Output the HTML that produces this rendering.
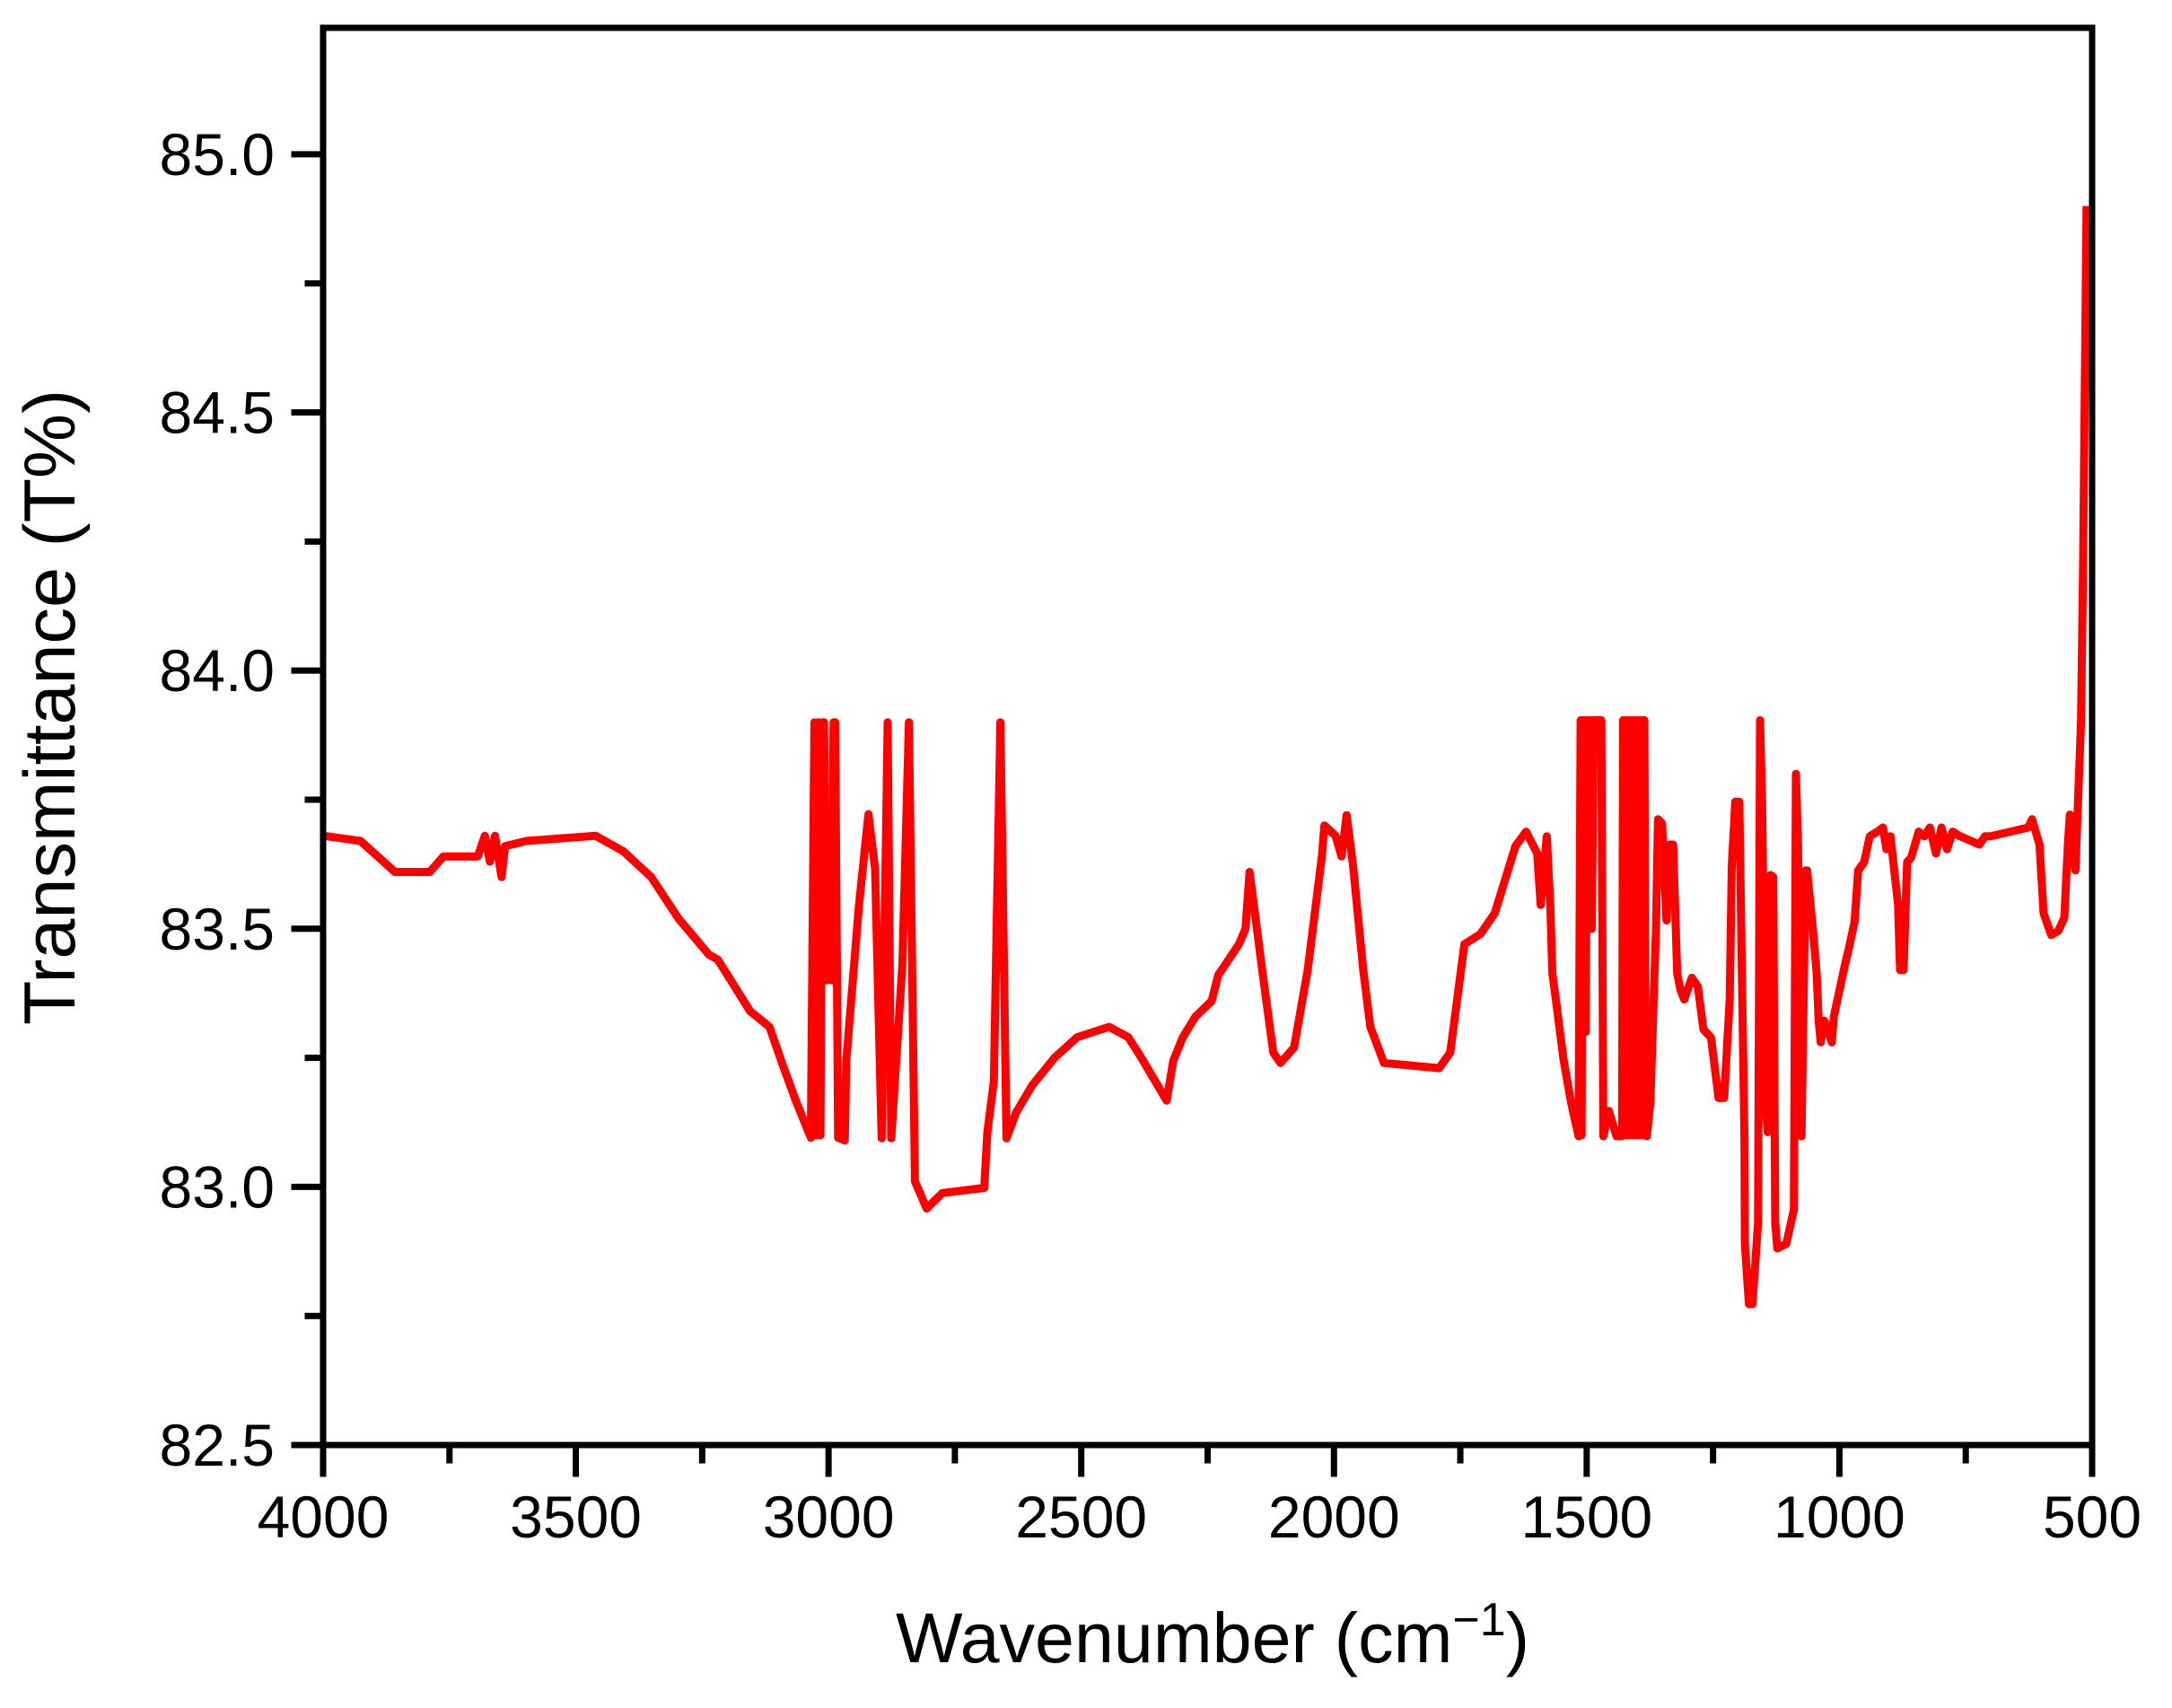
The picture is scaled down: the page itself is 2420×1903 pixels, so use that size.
<!DOCTYPE html>
<html><head><meta charset="utf-8"><style>
html,body{margin:0;padding:0;background:#fff;}
svg{display:block;font-family:"Liberation Sans",Arial,sans-serif;}
</style></head><body>
<svg id="chart" width="2420" height="1903" viewBox="0 0 2420 1903" xmlns="http://www.w3.org/2000/svg">
<rect x="0" y="0" width="2420" height="1903" fill="#fff"/>
<g id="plot"></g>
<g id="axes"></g>
<text x="1351" y="1852" font-size="79" text-anchor="middle">Wavenumber (cm<tspan font-size="52" dy="-30">−1</tspan><tspan dy="30">)</tspan></text>
<text x="0" y="0" font-size="81" text-anchor="middle" transform="translate(83,788) rotate(-90)">Transmittance (T%)</text>
</svg>
<script>
const xTicks = [4000,3500,3000,2500,2000,1500,1000,500];
const xTickLabels = ["4000","3500","3000","2500","2000","1500","1000","500"];
const yTicks = [82.5,83.0,83.5,84.0,84.5,85.0];
const yTickLabels = ["82.5","83.0","83.5","84.0","84.5","85.0"];
const wavenumbers = [4000,3926,3858,3789,3762,3694,3680,3670,3660,3647,3640,3598,3461,3406,3351,3297,3237,3219,3155,3117,3092,3066,3035,3028,3024,3020,3016,3012,3009,3005,3000,2995,2990,2987,2981,2968,2965,2940,2921,2908,2895,2883,2876,2854,2841,2829,2806,2775,2692,2686,2673,2660,2648,2629,2597,2553,2508,2445,2407,2381,2331,2318,2299,2274,2242,2229,2188,2175,2167,2155,2142,2120,2106,2079,2052,2024,2019,1997,1985,1975,1962,1942,1928,1901,1792,1770,1742,1710,1682,1641,1620,1598,1591,1579,1572,1568,1561,1546,1531,1516,1512,1510,1508,1506,1504,1502,1499,1496,1493,1490,1486,1471,1467,1456,1441,1430,1428,1425,1422,1419,1416,1413,1410,1407,1404,1401,1398,1395,1392,1389,1386,1383,1381,1374,1363,1359,1351,1342,1336,1329,1321,1314,1307,1292,1280,1269,1254,1239,1228,1217,1213,1206,1198,1188,1187,1179,1172,1161,1157,1153,1146,1142,1136,1131,1127,1123,1105,1090,1086,1082,1075,1067,1064,1052,1045,1041,1037,1030,1015,1011,1000,989,981,970,963,951,940,925,914,907,899,884,880,873,866,858,843,832,821,809,798,787,776,761,723,712,701,626,619,604,596,581,567,555,548,544,533,522,518,511,505,501];
const transmittance = [83.68,83.67,83.61,83.61,83.64,83.64,83.68,83.63,83.68,83.60,83.66,83.67,83.68,83.65,83.60,83.52,83.45,83.44,83.34,83.31,83.24,83.17,83.095,83.90,83.10,83.90,83.10,83.90,83.90,83.40,83.60,83.40,83.90,83.90,83.095,83.09,83.244,83.543,83.722,83.616,83.094,83.90,83.094,83.43,83.90,83.011,82.958,82.988,82.998,83.104,83.204,83.90,83.094,83.144,83.197,83.25,83.29,83.31,83.29,83.25,83.167,83.244,83.29,83.33,83.36,83.41,83.47,83.50,83.61,83.52,83.42,83.26,83.24,83.27,83.42,83.64,83.70,83.68,83.64,83.72,83.62,83.42,83.31,83.24,83.23,83.26,83.47,83.49,83.53,83.66,83.688,83.646,83.546,83.679,83.546,83.413,83.363,83.247,83.164,83.098,83.904,83.10,83.904,83.30,83.904,83.30,83.904,83.50,83.904,83.50,83.904,83.904,83.098,83.147,83.098,83.098,83.904,83.10,83.904,83.10,83.904,83.10,83.904,83.10,83.904,83.10,83.904,83.10,83.904,83.10,83.904,83.10,83.098,83.164,83.496,83.712,83.704,83.516,83.663,83.663,83.413,83.38,83.363,83.405,83.388,83.305,83.289,83.172,83.172,83.363,83.621,83.746,83.746,83.098,82.89,82.773,82.773,82.931,83.904,83.746,83.164,83.106,83.604,83.60,82.931,82.881,82.89,82.956,83.80,83.663,83.098,83.613,83.613,83.496,83.413,83.322,83.28,83.322,83.28,83.33,83.38,83.43,83.463,83.513,83.613,83.629,83.679,83.688,83.696,83.654,83.679,83.546,83.42,83.42,83.629,83.638,83.688,83.679,83.696,83.646,83.696,83.654,83.688,83.679,83.663,83.679,83.679,83.696,83.712,83.663,83.53,83.488,83.496,83.521,83.663,83.721,83.613,83.90,84.2,84.9];

const L=360,R=2331,T=31,B=1610;
const xMin=500,xMax=4000,yMin=82.5,yMax=85.245;
function sx(w){return L+(xMax-w)/(xMax-xMin)*(R-L);}
function sy(v){return B-(v-yMin)/(yMax-yMin)*(B-T);}
const NS="http://www.w3.org/2000/svg";
const plot=document.getElementById('plot');
const axes=document.getElementById('axes');

let d="";
for(let i=0;i<wavenumbers.length;i++){d+=(i?"L":"M")+sx(wavenumbers[i]).toFixed(1)+","+sy(transmittance[i]).toFixed(1);}
const path=document.createElementNS(NS,'path');
path.setAttribute('d',d);
path.setAttribute('fill','none');
path.setAttribute('stroke','#ff0000');
path.setAttribute('stroke-width','9');
path.setAttribute('stroke-linejoin','round');


plot.appendChild(path);

function line(x1,y1,x2,y2,name){
  const l=document.createElementNS(NS,'line');
  l.setAttribute('x1',x1);l.setAttribute('y1',y1);l.setAttribute('x2',x2);l.setAttribute('y2',y2);
  l.setAttribute('stroke','#000');l.setAttribute('stroke-width','7');l.setAttribute('stroke-linecap','square');
  
  
  axes.appendChild(l);
}
function txt(x,y,s,anchor,name){
  const t=document.createElementNS(NS,'text');
  t.setAttribute('x',x);t.setAttribute('y',y);t.setAttribute('font-size','66');t.setAttribute('text-anchor',anchor);
  t.textContent=s;
  
  
  axes.appendChild(t);
}
const frame=document.createElementNS(NS,'rect');
frame.setAttribute('x',L);frame.setAttribute('y',T);frame.setAttribute('width',R-L);frame.setAttribute('height',B-T);
frame.setAttribute('fill','none');frame.setAttribute('stroke','#000');frame.setAttribute('stroke-width','7');


axes.appendChild(frame);

xTicks.forEach((v,i)=>{
  const x=sx(v);
  line(x,B,x,B+32,'x-tick-major');
  txt(x,1713,xTickLabels[i],'middle','x-tick-label');
  if(i<xTicks.length-1){const m=sx(v-250);line(m,B,m,B+17,'x-tick-minor');}
});
yTicks.forEach((v,i)=>{
  const y=sy(v);
  line(L-32,y,L,y,'y-tick-major');
  txt(306,y+23,yTickLabels[i],'end','y-tick-label');
  const m=sy(v+0.25);
  if(m>T)line(L-17,m,L,m,'y-tick-minor');
});
</script>
</body></html>
